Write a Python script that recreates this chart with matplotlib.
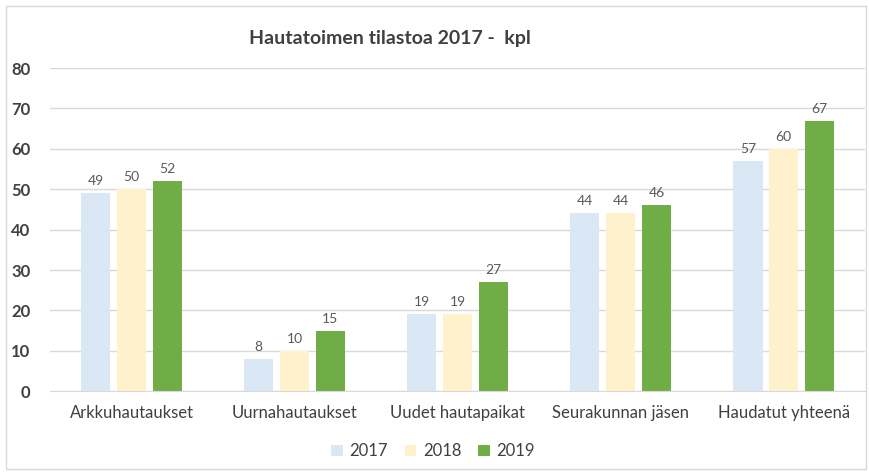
import numpy as np
import matplotlib.pyplot as plt
from matplotlib.patches import Rectangle

categories = ['Arkkuhautaukset', 'Uurnahautaukset', 'Uudet hautapaikat',
              'Seurakunnan jäsen', 'Haudatut yhteenä']
years = ['2017', '2018', '2019']
v2017 = [49, 8, 19, 44, 57]
v2018 = [50, 10, 19, 44, 60]
v2019 = [52, 15, 27, 46, 67]
colors = ['#DAE7F5', '#FFF1CC', '#70AD47']

plt.rcParams['font.family'] = ['Liberation Sans Narrow', 'Lato', 'DejaVu Sans']

fig = plt.figure(figsize=(8.7, 4.73), dpi=100)
fig.patches.append(Rectangle((0.007, 0.008), 0.988, 0.98, transform=fig.transFigure,
                             fill=False, edgecolor='#D9D9D9', linewidth=1))
ax = fig.add_axes([0.0575, 0.173, 0.937, 0.683])

x = np.arange(len(categories))
w = 0.18
off = 0.22
for i, (vals, c, lab) in enumerate(zip([v2017, v2018, v2019], colors, years)):
    pos = x + (i - 1) * off
    bars = ax.bar(pos, vals, width=w, color=c, label=lab, zorder=2)
    for p, v in zip(pos, vals):
        ax.text(p, v + 1.5, str(v), ha='center', va='bottom', fontsize=10, color='#595959')

ax.set_xlim(-0.5, len(categories) - 0.5)
ax.set_ylim(0, 80)
ax.set_yticks(range(0, 81, 10))
ax.yaxis.grid(True, color='#D9D9D9', linewidth=1, zorder=0)
ax.set_axisbelow(True)
for s in ['top', 'right', 'left']:
    ax.spines[s].set_visible(False)
ax.spines['bottom'].set_color('#D9D9D9')
ax.tick_params(axis='both', length=0, colors='#404040')
ax.tick_params(axis='y', labelsize=12, pad=14)
ax.tick_params(axis='x', labelsize=12, pad=10)
for t in ax.get_yticklabels():
    t.set_fontweight('bold')
ax.set_xticks(x)
ax.set_xticklabels(categories)

fig.text(0.448, 0.918, 'Hautatoimen tilastoa 2017 -  kpl', ha='center', va='center',
         fontsize=14, fontweight='bold', color='#404040')

ax.legend(loc='upper center', bbox_to_anchor=(0.47, -0.115), ncol=3, frameon=False,
          fontsize=12, handlelength=0.7, handleheight=0.7, columnspacing=1.0,
          handletextpad=0.4, labelcolor='#404040')

fig.savefig('out.png', dpi=100)
